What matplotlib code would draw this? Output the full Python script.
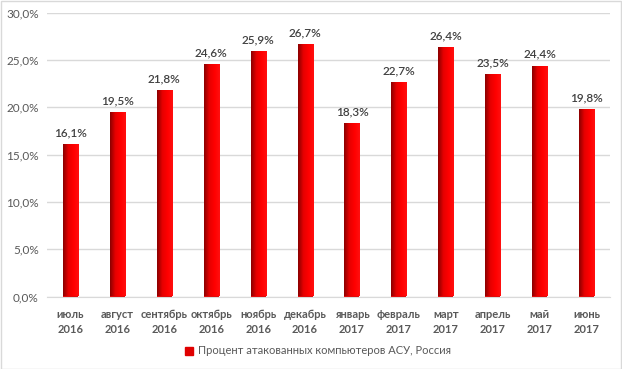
import matplotlib.pyplot as plt
import numpy as np
from matplotlib.colors import LinearSegmentedColormap
from matplotlib.patches import Rectangle

months = ['июль', 'август', 'сентябрь', 'октябрь', 'ноябрь', 'декабрь',
          'январь', 'февраль', 'март', 'апрель', 'май', 'июнь']
years = ['2016'] * 6 + ['2017'] * 6
values = [16.1, 19.5, 21.8, 24.6, 25.9, 26.7, 18.3, 22.7, 26.4, 23.5, 24.4, 19.8]
series_name = 'Процент атакованных компьютеров АСУ, Россия'

plt.rcParams['font.family'] = ['Lato', 'DejaVu Sans']

fig = plt.figure(figsize=(6.22, 3.69), dpi=100)
ax = fig.add_axes([47 / 622, 1 - 296.5 / 369, 563 / 622, 284 / 369])

x = np.arange(len(values))
bars = ax.bar(x, values, width=0.32, color='#e00000', zorder=2)

# horizontal gradient inside each bar: dark red on the left, bright red on the right
cmap = LinearSegmentedColormap.from_list('red', ['#8b0000', '#e60000', '#ff0000', '#ff1010'])
grad = np.linspace(0, 1, 64).reshape(1, -1)
for b in bars:
    x0, w, h = b.get_x(), b.get_width(), b.get_height()
    im = ax.imshow(grad, cmap=cmap, extent=[x0, x0 + w, 0, h], aspect='auto', zorder=3)
    im.set_clip_path(b)

for xi, v in zip(x, values):
    ax.text(xi, v + 0.6, f'{v:.1f}%'.replace('.', ','), ha='center', va='bottom',
            fontsize=8.5, color='#404040', fontweight='semibold')

ax.set_xlim(-0.5, len(values) - 0.5)
ax.set_ylim(0, 30)
ax.set_yticks(np.arange(0, 31, 5))
ax.set_yticklabels([f'{t:.1f}%'.replace('.', ',') for t in np.arange(0, 31, 5)],
                   fontsize=8.5, color='#595959')
ax.set_xticks(x)
ax.set_xticklabels([f'{m}\n{y}' for m, y in zip(months, years)], fontsize=8,
                   color='#595959', fontweight='bold', linespacing=1.45)
ax.tick_params(length=0, pad=6)
ax.tick_params(axis='x', pad=9)
ax.grid(axis='y', color='#d9d9d9', linewidth=1, zorder=0)
ax.set_axisbelow(True)
for s in ['top', 'right', 'left']:
    ax.spines[s].set_visible(False)
ax.spines['bottom'].set_color('#d9d9d9')

handle = Rectangle((0, 0), 1, 1, color='#e00000')
fig.legend([handle], [series_name], loc='center', bbox_to_anchor=(318 / 622, 1 - 351 / 369),
           frameon=False, fontsize=8, handlelength=0.7, handleheight=0.7,
           handletextpad=0.4, labelcolor='#595959')

fig.patches.append(Rectangle((0.5 / 622, 0.5 / 369), 620.5 / 622, 367.5 / 369,
                             transform=fig.transFigure, fill=False,
                             edgecolor='#d9d9d9', linewidth=1))

fig.savefig('out.png', dpi=100)
